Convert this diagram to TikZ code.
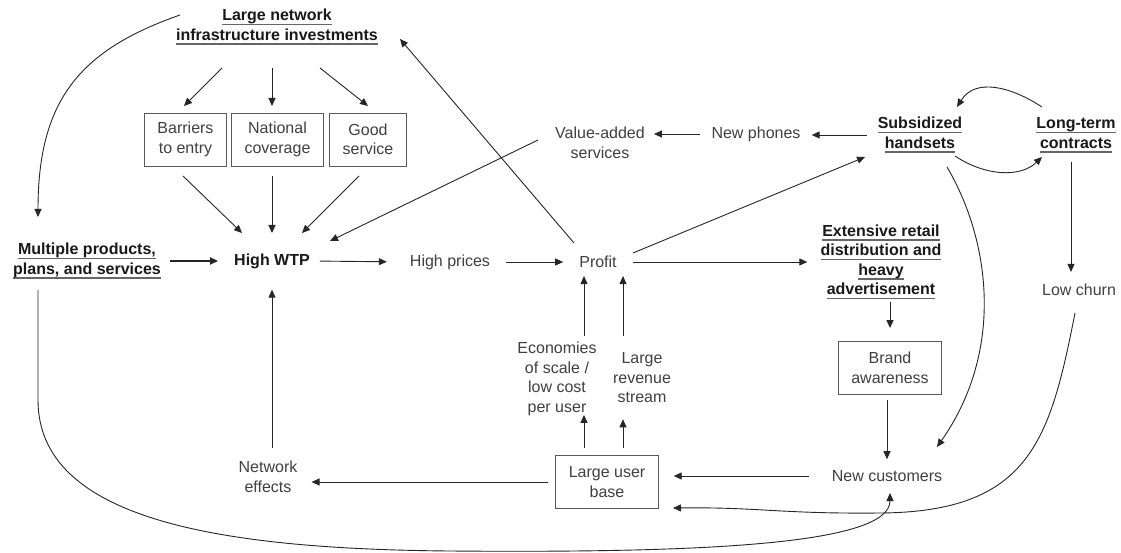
\documentclass[tikz,border=0pt]{standalone}
\usepackage{fontspec}
\setmainfont{Liberation Sans}
\usetikzlibrary{arrows.meta}

\newcommand{\ukey}[1]{\setbox0\hbox{#1}\leavevmode\rlap{\color{black!60}\rule[-4.5pt]{\wd0}{1.5pt}}\box0}

\tikzset{
  txt/.style={font=\fontsize{16}{19.5}\selectfont, text=black!75, align=center, inner sep=2pt},
  key/.style={txt, font=\fontsize{16}{19.5}\selectfont\bfseries, text=black!90},
  box/.style={txt, draw=black!65, line width=0.9pt, inner xsep=13pt, minimum height=53pt},
  arr/.style={-{Triangle[length=8pt,width=7pt]}, line width=0.9pt, black!85},
}

\begin{document}
\begin{tikzpicture}[x=1pt, y=-1pt]
\fill[white] (0,0) rectangle (1121,553);
\useasboundingbox (0,0) rectangle (1121,553);

% nodes
\node[key] (lni) at (277,27) {\ukey{Large network}\\\ukey{infrastructure investments}};
\node[box] (barriers) at (185.5,139.5) {Barriers\\to entry};
\node[box] (national) at (277.5,139.5) {National\\coverage};
\node[box] (good) at (368,139.5) {Good\\service};
\node[key] (wtp) at (272,261) {High WTP};
\node[key] (multi) at (87,261) {\ukey{Multiple products,}\\\ukey{plans, and services}};
\node[txt] (prices) at (450,262) {High prices};
\node[txt] (profit) at (598,262) {Profit};
\node[txt] (vas) at (600,143) {Value-added\\services};
\node[txt] (phones) at (756,134) {New phones};
\node[key] (subsid) at (920,135) {\ukey{Subsidized}\\\ukey{handsets}};
\node[key] (longterm) at (1076,135) {\ukey{Long-term}\\\ukey{contracts}};
\node[key] (retail) at (881,262) {\ukey{Extensive retail}\\\ukey{distribution and}\\\ukey{heavy}\\\ukey{advertisement}};
\node[txt] (churn) at (1079,290) {Low churn};
\node[box] (brand) at (890,368) {Brand\\awareness};
\node[txt] (newcust) at (887,476) {New customers};
\node[box] (users) at (607,482) {Large user\\base};
\node[txt] (econ) at (557,379) {Economies\\of scale /\\low cost\\per user};
\node[txt] (revenue) at (642,378) {Large\\revenue\\stream};
\node[txt] (neteff) at (268,477) {Network\\effects};

% investments
\draw[arr] ([shift={(-55,41)}]lni.center) -- ([shift={(-1.5,-33.5)}]barriers.center);
\draw[arr] ([shift={(-5,41)}]lni.center) -- ([shift={(-5.5,-33.5)}]national.center);
\draw[arr] ([shift={(43,41)}]lni.center) -- ([shift={(0,-33.5)}]good.center);
\draw[arr] ([shift={(-2.5,36.5)}]barriers.center) -- ([shift={(-30,-28)}]wtp.center);
\draw[arr] ([shift={(-5.5,36.5)}]national.center) -- ([shift={(0,-28)}]wtp.center);
\draw[arr] ([shift={(-9,36.5)}]good.center) -- ([shift={(30,-28)}]wtp.center);
\draw[arr] ([shift={(-62,-3)}]vas.center) -- ([shift={(58,-20)}]wtp.center);

% main row
\draw[arr, line width=2pt, shorten <=7pt, shorten >=14pt] (multi.east) -- (wtp.west);
\draw[arr, shorten <=8pt, shorten >=21pt] (wtp.east) -- (prices.west);
\draw[arr, shorten <=14pt, shorten >=14pt] (prices.east) -- (profit.west);
\draw[arr, shorten <=14pt, shorten >=11pt] (profit.east) -- (retail.west |- profit.east);
\draw[arr] ([shift={(-24,-19)}]profit.center) -- ([shift={(123,12)}]lni.center);
\draw[arr] ([shift={(35,-9)}]profit.center) -- ([shift={(-55,22)}]subsid.center);

% handsets and contracts
\draw[arr, shorten <=9pt, shorten >=9pt] (subsid.west) -- (phones.east |- subsid.west);
\draw[arr, shorten <=9pt, shorten >=7pt] (phones.west) -- (vas.east |- phones.west);
\draw[arr] ([shift={(-34,-28)}]longterm.center) .. controls (1010,86) and (975,78) .. ([shift={(37,-28)}]subsid.center);
\draw[arr] ([shift={(35,21)}]subsid.center) .. controls (985,176) and (1020,178) .. ([shift={(-34,22)}]longterm.center);
\draw[arr, shorten <=7pt, shorten >=10pt] ([xshift=-5pt]longterm.south) -- ([xshift=-5pt]longterm.south |- churn.north);
\draw[arr] ([shift={(27,32)}]subsid.center) .. controls (990,240) and (1005,350) .. ([shift={(50,-29)}]newcust.center);
\draw[arr] ([shift={(-4,23)}]churn.center) .. controls (1050,440) and (1030,512) .. (880,513) .. controls (780,514) and (760,507) .. ([shift={(66,26)}]users.center);

% customers
\draw[arr, shorten <=1pt, shorten >=13pt] (brand.north |- retail.south) -- (brand.north);
\draw[arr, shorten <=5pt, shorten >=9pt] (newcust.north |- brand.south) -- (newcust.north);
\draw[arr, shorten <=21pt, shorten >=15pt] (newcust.west) -- (users.east |- newcust.west);
\draw[arr, shorten <=7pt, shorten >=12pt] (users.west) -- (users.west -| neteff.east);
\draw[arr, shorten <=11pt, shorten >=19pt] (wtp.south |- neteff.north) -- (wtp.south);

% user base to profit
\draw[arr, shorten <=7pt, shorten >=-3pt] ([xshift=-23pt]users.north) -- ([xshift=-23pt]users.north |- econ.south);
\draw[arr, shorten <=7pt, shorten >=14pt] ([xshift=16pt]users.north) -- ([xshift=16pt]users.north |- revenue.south);
\draw[arr, shorten <=4pt, shorten >=6pt] ([xshift=-14pt]profit.south |- econ.north) -- ([xshift=-14pt]profit.south);
\draw[arr, shorten <=4pt, shorten >=6pt] ([xshift=25pt]profit.south |- econ.north) -- ([xshift=25pt]profit.south);

% long loops
\draw[arr] ([shift={(-97,-12)}]lni.center) .. controls (80,50) and (38,100) .. ([shift={(-49,-44)}]multi.center);
\draw[arr] ([shift={(-49,29)}]multi.center) -- (38,400) .. controls (38,520) and (220,549) .. (450,551) .. controls (700,553) and (890,545) .. ([shift={(3,17)}]newcust.center);
\end{tikzpicture}
\end{document}
